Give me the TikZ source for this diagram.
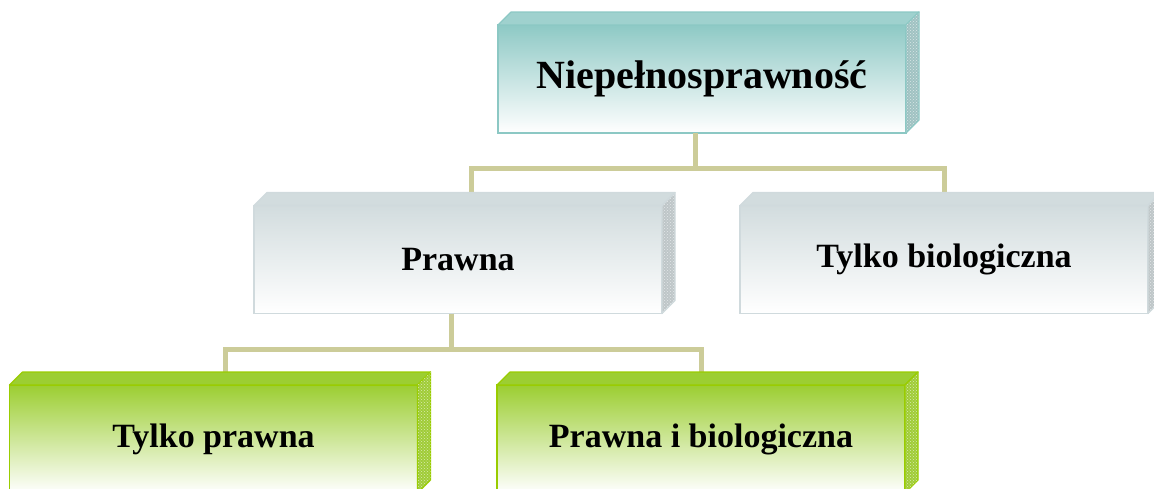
\documentclass[tikz,border=0pt]{standalone}
\usepackage{fontspec}
\setmainfont{Liberation Serif}
\usetikzlibrary{patterns}

\definecolor{tealtop}{RGB}{142,201,197}
\definecolor{tealedge}{RGB}{140,200,196}
\definecolor{tealside}{RGB}{160,194,194}
\definecolor{graytop}{RGB}{210,220,222}
\definecolor{grayedge}{RGB}{208,218,221}
\definecolor{grayside}{RGB}{190,198,200}
\definecolor{greentop}{RGB}{156,206,50}
\definecolor{greenedge}{RGB}{153,204,0}
\definecolor{greenside}{RGB}{160,204,56}
\definecolor{linkcol}{RGB}{204,204,153}

% depth of the 3d faces
\newcommand{\facedepth}{13}
% top and side face of a box: node, face colour, side colour, edge colour
\newcommand{\cubefaces}[4]{%
    \filldraw[draw=#4, fill=#2, line width=1.2pt, line join=round]
        (#1.north west) -- ([shift={(\facedepth,-\facedepth)}]#1.north west)
        -- ([shift={(\facedepth,-\facedepth)}]#1.north east) -- (#1.north east) -- cycle;
    \filldraw[draw=#4, fill=#3, line width=1.2pt, line join=round]
        (#1.north east) -- ([shift={(\facedepth,-\facedepth)}]#1.north east)
        -- ([shift={(\facedepth,-\facedepth)}]#1.south east) -- (#1.south east) -- cycle;
    \fill[pattern=crosshatch dots, pattern color=white!60!#3]
        (#1.north east) -- ([shift={(\facedepth,-\facedepth)}]#1.north east)
        -- ([shift={(\facedepth,-\facedepth)}]#1.south east) -- (#1.south east) -- cycle;
}

\tikzset{
    box/.style={minimum width=408pt, minimum height=108pt, outer sep=0pt,
        inner sep=0pt, line width=1.2pt, bottom color=white,
        font=\bfseries\fontsize{34}{38}\selectfont},
    tealbox/.style={box, draw=tealedge, top color=tealtop,
        font=\bfseries\fontsize{40}{44}\selectfont},
    graybox/.style={box, draw=grayedge, top color=graytop},
    greenbox/.style={box, draw=greenedge, top color=greentop, line width=1.8pt},
    link/.style={draw=linkcol, line width=5pt, line join=miter}
}

\begin{document}
\begin{tikzpicture}[x=1pt, y=-1pt]

    \useasboundingbox (0,0) rectangle (1154,488);

    % boxes
    \node[tealbox] (root) at (702,79) {Niepełnosprawność};
    \node[graybox] (prawna) at (458,259.5) {Prawna};
    \node[graybox] (biol) at (944,259.5) {Tylko biologiczna};
    \node[greenbox] (tprawna) at (213.5,439) {Tylko prawna};
    \node[greenbox] (obie) at (701,439) {Prawna i biologiczna};

    % connectors
    \draw[link] ([xshift=-7pt]root.south) -- ++(0,35) -| ([xshift=13pt,yshift=13pt]prawna.north);
    \draw[link] ([xshift=-7pt]root.south) -- ++(0,35) -| ([yshift=13pt]biol.north);
    \draw[link] ([xshift=-7pt]prawna.south) -- ++(0,36) -| ([xshift=12pt,yshift=13pt]tprawna.north);
    \draw[link] ([xshift=-7pt]prawna.south) -- ++(0,36) -| ([yshift=13pt]obie.north);

    % 3d faces
    \cubefaces{root}{tealtop!85}{tealside}{tealedge}
    \cubefaces{prawna}{graytop}{grayside}{grayedge}
    \cubefaces{biol}{graytop}{grayside}{grayedge}
    \cubefaces{tprawna}{greentop}{greenside}{greenedge}
    \cubefaces{obie}{greentop}{greenside}{greenedge}

\end{tikzpicture}
\end{document}
